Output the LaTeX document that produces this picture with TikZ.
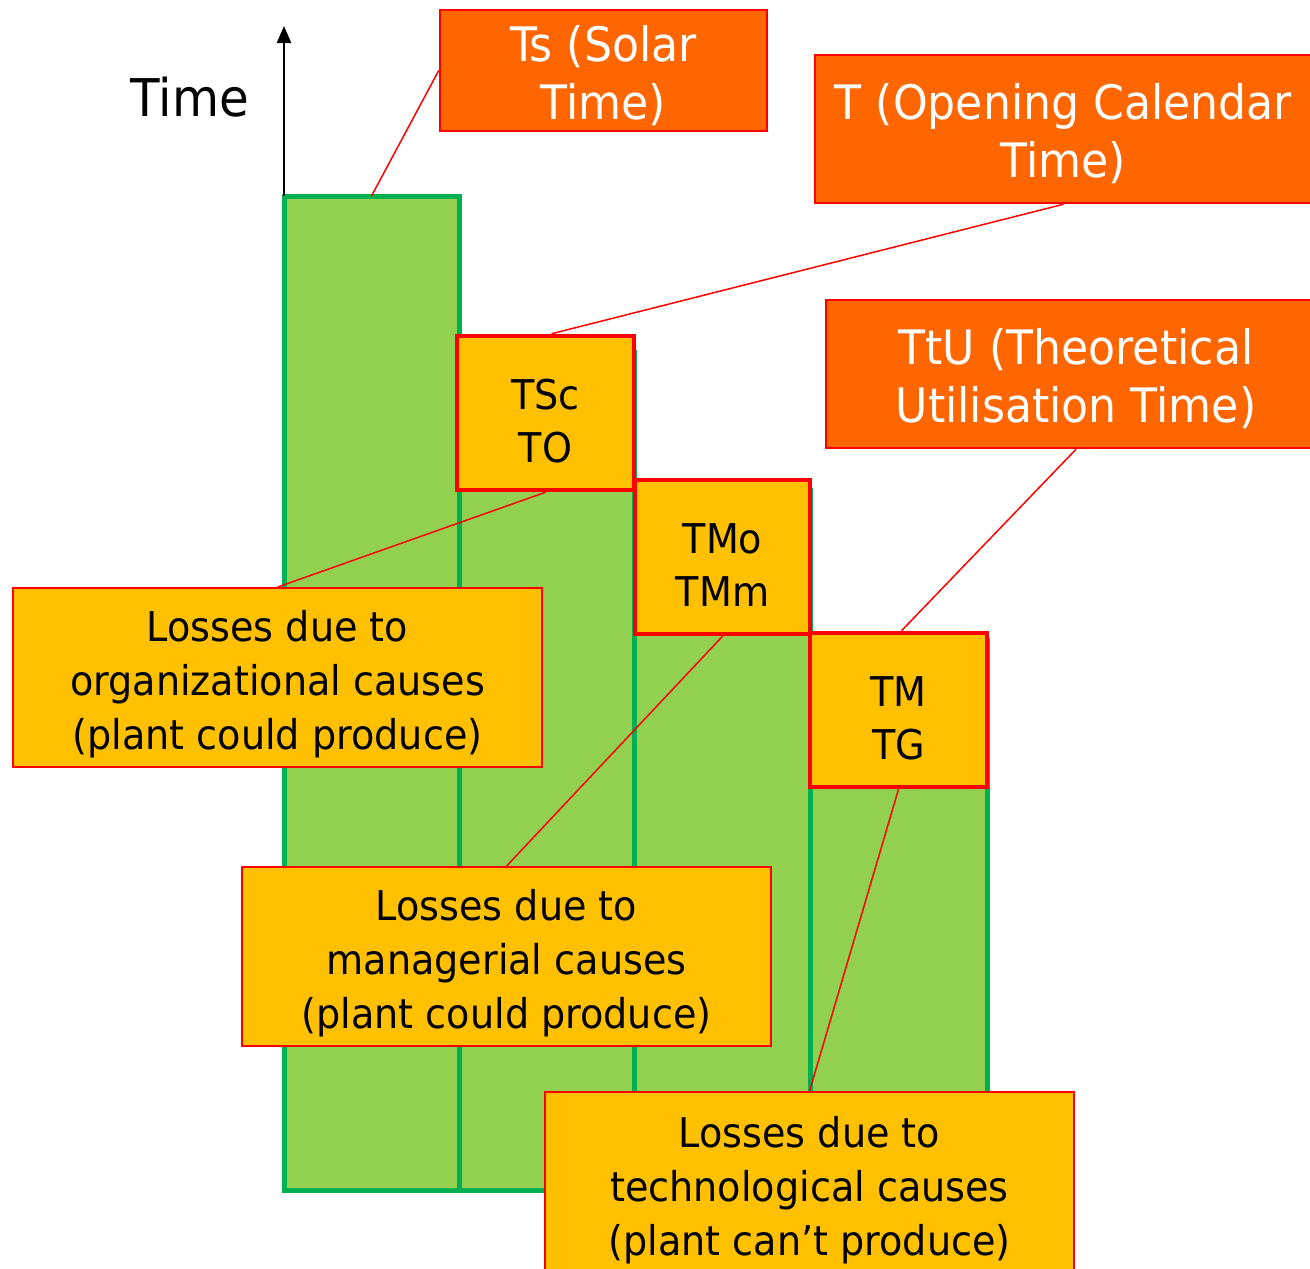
\documentclass[tikz,border=0pt]{standalone}
\usepackage{fontspec}
\setmainfont{DejaVu Sans}[FakeStretch=0.93]
\usetikzlibrary{arrows.meta}
\definecolor{barfill}{HTML}{92D050}
\definecolor{barline}{HTML}{00B050}
\definecolor{orangebox}{HTML}{FF6600}
\definecolor{yellowbox}{HTML}{FFC000}
\definecolor{redline}{HTML}{FF0000}
\pgfdeclarelayer{bars}
\pgfdeclarelayer{links}
\pgfsetlayers{bars,links,main}
\begin{document}
\begin{tikzpicture}[x=1pt,y=-1pt,
  barbox/.style={draw=barline, fill=barfill, line width=5pt, inner sep=0pt, outer sep=0pt, rectangle},
  timebox/.style={draw=redline, fill=yellowbox, line width=4.5pt, inner sep=0pt},
  timetext/.style={inner sep=0pt, align=center, font=\fontsize{41}{53}\selectfont},
  namebox/.style={draw=redline, fill=orangebox, line width=2.5pt, inner sep=0pt},
  nametext/.style={inner sep=0pt, align=center, text=white, font=\fontsize{47.5}{58}\selectfont},
  lossbox/.style={draw=redline, fill=yellowbox, line width=1.8pt, inner sep=0pt},
  losstext/.style={inner sep=0pt, align=center, font=\fontsize{41}{54}\selectfont},
  link/.style={draw=redline, line width=1.5pt}]
\useasboundingbox (0,0) rectangle (1310,1269);

% bars
\begin{pgfonlayer}{bars}
\fill[white] (0,0) rectangle (1310,1269);
\node[barbox, minimum width=175pt, minimum height=994pt] (bar1) at (371.5,693) {};
\node[barbox, minimum width=175pt, minimum height=838pt] (bar2) at (546.5,771) {};
\node[barbox, minimum width=176pt, minimum height=700pt] (bar3) at (722,840) {};
\node[barbox, minimum width=177pt, minimum height=550pt] (bar4) at (898.5,915) {};
\coordinate (axtop) at (bar1.north west |- 0,26);
\draw[line width=2.5pt, -{Triangle[length=17pt,width=14pt]}] (bar1.north west) -- (axtop);
\end{pgfonlayer}

\node[font=\fontsize{52}{58}\selectfont] (time) at (190,97) {Time};

% name boxes
\node[namebox, minimum width=327pt, minimum height=121pt] (ts) at (603.5,70.5) {};
\node[nametext] (tstext) at ([yshift=-5pt]ts.center) {Ts (Solar\\Time)};
\node[namebox, minimum width=497pt, minimum height=148pt] (t) at (1063.5,129) {};
\node[nametext] (ttext) at ([yshift=-5pt]t.center) {T (Opening Calendar\\Time)};
\node[namebox, minimum width=486pt, minimum height=148pt] (ttu) at (1069,374) {};
\node[nametext] (ttutext) at ([yshift=-5pt,xshift=7pt]ttu.center) {TtU (Theoretical\\Utilisation Time)};

% time boxes
\node[timebox, minimum width=177pt, minimum height=154pt] (tsc) at (545.5,413) {};
\node[timetext] (tsctext) at ([yshift=-8pt]tsc.center) {TSc\\TO};
\node[timebox, minimum width=175pt, minimum height=154pt] (tmo) at (722.5,557) {};
\node[timetext] (tmotext) at ([yshift=-8pt]tmo.center) {TMo\\TMm};
\node[timebox, minimum width=177pt, minimum height=154pt] (tm) at (898.5,710) {};
\node[timetext] (tmtext) at ([yshift=-8pt]tm.center) {TM\\TG};

% loss boxes
\node[lossbox, minimum width=529pt, minimum height=179pt] (org) at (277.5,677.5) {};
\node[losstext] (orgtext) at ([yshift=-7pt]org.center) {Losses due to\\organizational causes\\(plant could produce)};
\node[lossbox, minimum width=529pt, minimum height=179pt] (man) at (506.5,956.5) {};
\node[losstext] (mantext) at ([yshift=-7pt]man.center) {Losses due to\\managerial causes\\(plant could produce)};
\node[lossbox, minimum width=529pt, minimum height=190pt] (tech) at (809.5,1187) {};
\node[losstext] (techtext) at ([yshift=-3pt]tech.center) {Losses due to\\technological causes\\(plant can’t produce)};

% connectors
\begin{pgfonlayer}{links}
\draw[link] (ts.west) -- (bar1.north);
\draw[link] (t.south) -- ([xshift=6pt]tsc.north);
\draw[link] (tsc.south) -- (org.north);
\draw[link] (tmo.south) -- (man.north);
\draw[link] ([xshift=7pt]ttu.south) -- ([xshift=3pt]tm.north);
\draw[link] (tm.south) -- (tech.north);
\end{pgfonlayer}
\end{tikzpicture}
\end{document}
